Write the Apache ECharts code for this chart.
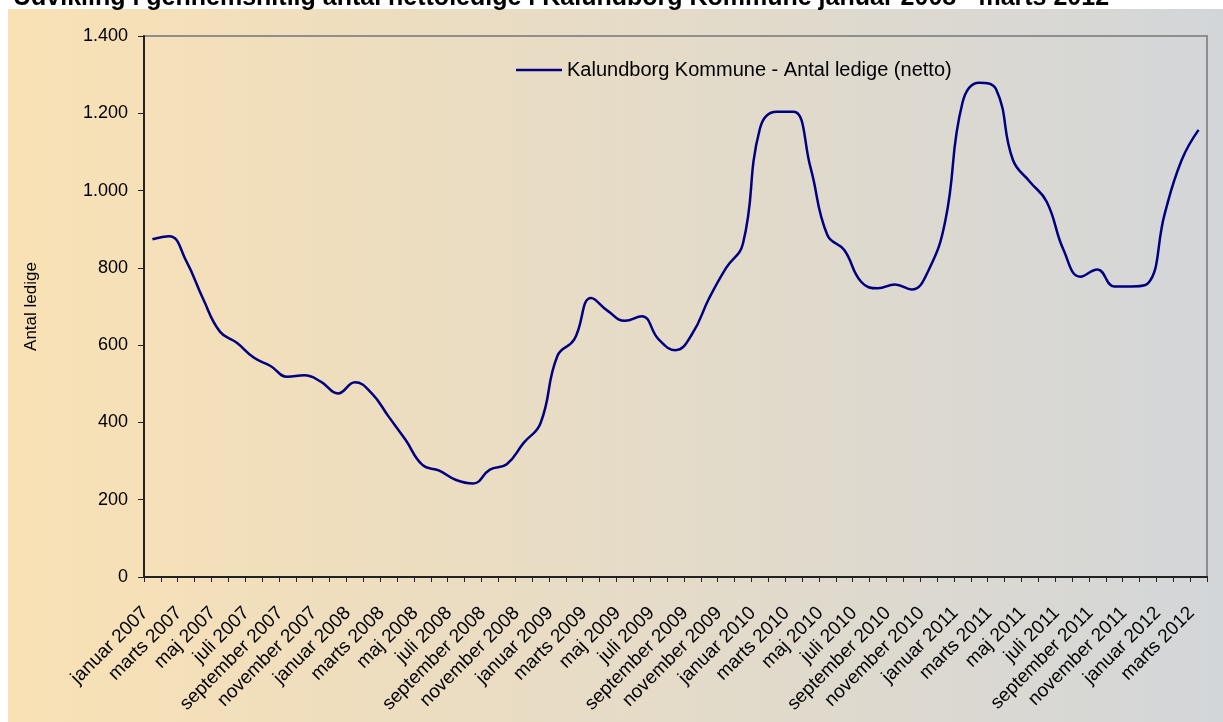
<!DOCTYPE html>
<html>
<head>
<meta charset="utf-8">
<script src="https://cdn.jsdelivr.net/npm/echarts@6/dist/echarts.min.js"></script>
<style>
  html, body { margin: 0; padding: 0; background: #ffffff; }
  #chart { width: 1223px; height: 722px; }
</style>
</head>
<body>
<div id="chart"></div>
<script>
// ---- data ----
const monthNames = ['januar','februar','marts','april','maj','juni','juli','august','september','oktober','november','december'];
const years = [2007, 2008, 2009, 2010, 2011, 2012];
const lastMonthIndex2012 = 2; // marts 2012
const categories = [];
years.forEach(function (y) {
  monthNames.forEach(function (m, i) {
    if (y === 2012 && i > lastMonthIndex2012) return;
    categories.push(m + ' ' + y);
  });
});
const seriesName = 'Kalundborg Kommune - Antal ledige (netto)';
const ledige = [
  874, 882, 818, 720, 635, 606, 568, 546, 518, 522, 505, 475,
  504, 475, 415, 355, 290, 275, 251, 242, 278, 292, 347, 398,
  572, 615, 722, 688, 663, 675, 615, 587, 630, 722, 800, 863,
  1160, 1204, 1204, 1060, 885, 846, 764, 747, 757, 744, 794, 924,
  1226, 1279, 1262, 1079, 1023, 971, 846, 777, 796, 752, 752, 760,
  941, 1079, 1157
];
const titleText = 'Udvikling i gennemsnitlig antal nettoledige i Kalundborg Kommune januar 2008 - marts 2012';
const yAxisName = 'Antal ledige';

// ---- chart ----
const FONT = '"Liberation Sans", Arial, sans-serif';
const chart = echarts.init(document.getElementById('chart'), null, { renderer: 'canvas' });
chart.setOption({
  backgroundColor: '#ffffff',
  animation: false,
  textStyle: { fontFamily: FONT },
  graphic: [{
    type: 'rect',
    z: -100,
    silent: true,
    shape: { x: 8, y: 9, width: 1215, height: 713 },
    style: {
      fill: new echarts.graphic.LinearGradient(0, 0, 1, 0, [
        { offset: 0, color: '#F9E1B4' },
        { offset: 1, color: '#D3D6D9' }
      ])
    }
  }],
  title: {
    text: titleText,
    left: 8,
    top: -19,
    textStyle: { fontFamily: FONT, fontWeight: 'bold', fontSize: 25, color: '#000000' }
  },
  legend: {
    data: [{ name: seriesName, icon: 'rect' }],
    left: 511,
    top: 54,
    itemWidth: 46,
    itemHeight: 2.5,
    itemStyle: { color: '#000080' },
    textStyle: { fontFamily: FONT, fontSize: 20, color: '#000000', lineHeight: 22 }
  },
  grid: {
    left: 144, right: 16, top: 36, bottom: 145,
    show: true,
    borderColor: '#8E8E8E',
    borderWidth: 2,
    backgroundColor: 'transparent'
  },
  xAxis: {
    type: 'category',
    data: categories,
    boundaryGap: true,
    axisLine: { show: true, lineStyle: { color: '#222222', width: 2 } },
    axisTick: { show: true, interval: 0, length: 5, lineStyle: { color: '#222222', width: 1 } },
    axisLabel: {
      interval: 1,
      rotate: 45,
      margin: 26,
      padding: [0, 10, 0, 0],
      fontFamily: FONT,
      fontSize: 19,
      color: '#000000'
    },
    splitLine: { show: false }
  },
  yAxis: {
    type: 'value',
    min: 0,
    max: 1400,
    interval: 200,
    name: yAxisName,
    nameLocation: 'middle',
    nameGap: 104,
    nameRotate: 90,
    nameTextStyle: { fontFamily: FONT, fontSize: 17, color: '#000000' },
    axisLine: { show: true, lineStyle: { color: '#222222', width: 2 } },
    axisTick: { show: true, length: 6, lineStyle: { color: '#222222', width: 1 } },
    axisLabel: {
      margin: 16,
      fontFamily: FONT,
      fontSize: 18,
      color: '#000000',
      formatter: function (v) { return String(v).replace(/\B(?=(\d{3})+(?!\d))/g, '.'); }
    },
    splitLine: { show: false }
  },
  series: [{
    name: seriesName,
    type: 'line',
    data: ledige,
    smooth: 0.45,
    symbol: 'none',
    lineStyle: { color: '#000080', width: 2.5 },
    itemStyle: { color: '#000080' }
  }]
});
</script>
</body>
</html>
